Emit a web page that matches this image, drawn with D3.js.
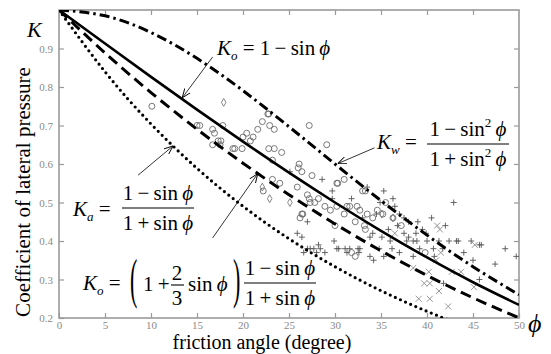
<!DOCTYPE html>
<html>
<head>
<meta charset="utf-8">
<script src="https://cdn.jsdelivr.net/npm/d3@7"></script>
<style>
body { margin: 0; background: #fff; }
svg text { font-family: "Liberation Serif", "Times New Roman", "DejaVu Serif", serif; }
.tick text { fill: #8a8a8a; font-size: 11px; }
.tick line { stroke: #9a9a9a; stroke-width: 1.2; }
</style>
</head>
<body>
<svg></svg>
<script>
var margin = {top: 10, right: 32, bottom: 36, left: 59},
    width = 551 - margin.left - margin.right,
    height = 354 - margin.top - margin.bottom;

var serif = "'Liberation Serif', 'Times New Roman', 'DejaVu Serif', serif";

// axis ticks
var phiTicks = [0, 5, 10, 15, 20, 25, 30, 35, 40, 45, 50];
var kTicks = [0.2, 0.3, 0.4, 0.5, 0.6, 0.7, 0.8, 0.9];

// theory curves, read every 5 degrees
var curvePhi = [0, 5, 10, 15, 20, 25, 30, 35, 40, 45, 50];
var kActive = [1, 0.8397, 0.7041, 0.5888, 0.4903, 0.4059, 0.3333, 0.2710, 0.2174, 0.1716, 0.1325];
var kJaky = [1, 0.9128, 0.8264, 0.7412, 0.6580, 0.5774, 0.5, 0.4264, 0.3572, 0.2929, 0.2340];
var kModified = [1, 0.8885, 0.7856, 0.6904, 0.6021, 0.5203, 0.4444, 0.3746, 0.3106, 0.2525, 0.2002];
var kWall = [1, 0.9849, 0.9415, 0.8744, 0.7906, 0.6969, 0.6, 0.5049, 0.4153, 0.3333, 0.2604];

// measured points [phi, K]
var circlePts = [[10.1,0.75],[15.0,0.70],[15.3,0.70],[16.7,0.69],[16.9,0.68],[17.8,0.70],[17.3,0.66],[17.6,0.66],
  [16.7,0.65],[17.5,0.65],[18.9,0.64],[20.0,0.67],[21.1,0.67],[20.8,0.66],[19.9,0.64],[22.1,0.71],[22.7,0.73],
  [22.8,0.73],[22.9,0.70],[23.4,0.69],[22.8,0.64],[23.4,0.64],[24.2,0.63],[23.2,0.61],[27.2,0.70],[29.1,0.65],
  [26.1,0.60],[26.0,0.59],[26.4,0.58],[27.5,0.57],[24.0,0.55],[23.2,0.56],[25.9,0.54],[27.0,0.52],[27.2,0.51],
  [30.2,0.55],[31.0,0.56],[30.3,0.55],[33.3,0.53],[22.2,0.53],[27.3,0.50],[27.8,0.50],[28.2,0.51],[28.9,0.49],
  [26.4,0.47],[26.5,0.47],[26.2,0.46],[30.2,0.49],[31.3,0.49],[31.6,0.49],[32.4,0.49],[32.7,0.48],[33.5,0.47],
  [34.1,0.46],[33.0,0.53],[30.0,0.44],[31.8,0.37],[32.2,0.36],[33.2,0.44],[33.3,0.43],[32.2,0.45],[35.2,0.47],
  [36.3,0.46],[37.2,0.44],[39.8,0.37],[21.6,0.69],[20.4,0.68],[19.1,0.64],[35.5,0.50],[34.6,0.48],[31.0,0.47],[29.5,0.48]];
var diamondPts = [[17.9,0.76],[22.1,0.54],[22.9,0.51],[35.1,0.47],[36.3,0.46],[25.1,0.50]];
var plusPts = [[28.6,0.56],[29.7,0.51],[33.5,0.54],[35.3,0.53],[25.1,0.58],[29.7,0.53],[27.0,0.45],[25.9,0.42],
  [27.3,0.38],[28.2,0.39],[28.4,0.38],[30.2,0.38],[31.3,0.37],[32.5,0.38],[34.2,0.35],[31.8,0.51],[34.9,0.50],
  [36.3,0.51],[36.2,0.38],[34.1,0.42],[35.1,0.41],[26.4,0.41],[27.0,0.38],[27.7,0.38],[28.0,0.37],[26.6,0.37],
  [28.9,0.37],[29.9,0.40],[30.4,0.38],[31.1,0.38],[31.6,0.38],[32.7,0.38],[32.6,0.37],[33.8,0.36],[34.8,0.38],
  [35.3,0.36],[33.8,0.41],[42.9,0.50],[41.3,0.40],[44.8,0.40],[45.9,0.39],[45.7,0.39],[48.5,0.38],[49.7,0.36],
  [47.4,0.34],[45.0,0.35],[44.0,0.37],[42.4,0.40],[41.7,0.38],[43.2,0.40],[40.7,0.38],[39.2,0.38],[38.5,0.40],
  [45.7,0.30],[41.8,0.29],[43.4,0.40],[37.5,0.42],[38.0,0.41],[38.9,0.40],[39.9,0.42],[38.8,0.42],[37.8,0.40],
  [40.0,0.40],[40.8,0.36],[37.0,0.47],[38.0,0.45],[36.8,0.44],[39.5,0.43],[36.5,0.49],[37.5,0.46],[34.5,0.47],
  [33.0,0.46],[35.8,0.43],[36.0,0.40],[37.0,0.37],[38.5,0.36],[39.0,0.45],[42.0,0.44],[40.5,0.46]];
var crossPts = [[41.1,0.44],[41.4,0.43],[43.7,0.32],[40.2,0.32],[39.7,0.29],[41.3,0.27],[39.1,0.25],[40.3,0.25],
  [42.3,0.23],[45.1,0.28],[41.5,0.37],[42.7,0.32],[40.3,0.29],[38.5,0.33],[36.5,0.42],[41.0,0.35],[45.2,0.39]];

var svg = d3.select("svg")
    .attr("width", width + margin.left + margin.right)
    .attr("height", height + margin.top + margin.bottom),
  g = svg.append("g").attr("transform", "translate(" + margin.left + "," + margin.top + ")");

var x = d3.scaleLinear().domain([0, 50]).range([0, width]);
var y = d3.scaleLinear().domain([0.2, 1.0]).range([height, 0]);

svg.append("defs").append("clipPath").attr("id", "plot")
  .append("rect").attr("width", width).attr("height", height);

svg.select("defs").append("marker")
    .attr("id", "arrow")
    .attr("viewBox", "0 -5 10 10")
    .attr("refX", 10).attr("refY", 0)
    .attr("markerWidth", 9).attr("markerHeight", 9)
    .attr("markerUnits", "userSpaceOnUse")
    .attr("orient", "auto")
  .append("path")
    .attr("d", "M0,-4L10,0L0,4")
    .attr("fill", "none").attr("stroke", "#000").attr("stroke-width", 1);

// axes, ticks point inward
g.append("g")
    .attr("transform", "translate(0," + height + ")")
    .call(d3.axisBottom(x).tickValues(phiTicks).tickSize(-5).tickPadding(3).tickFormat(d3.format("d")));
g.append("g")
    .call(d3.axisLeft(y).tickValues(kTicks).tickSize(-5).tickPadding(6).tickFormat(d3.format(".1f")));
g.append("g")
    .call(d3.axisTop(x).tickValues(phiTicks.slice(1, -1)).tickSize(-5).tickFormat(""));
g.append("g")
    .attr("transform", "translate(" + width + ",0)")
    .call(d3.axisRight(y).tickValues(kTicks.slice(1)).tickSize(-5).tickFormat(""));
g.selectAll(".domain").remove();
g.selectAll(".tick text").attr("font-family", serif);

g.append("rect")
    .attr("width", width).attr("height", height)
    .attr("fill", "none").attr("stroke", "#9a9a9a").attr("stroke-width", 1.6);

// scatter
var pts = g.append("g").attr("clip-path", "url(#plot)");
pts.selectAll(".c").data(circlePts).enter().append("circle")
    .attr("cx", function(d) { return x(d[0]); })
    .attr("cy", function(d) { return y(d[1]); })
    .attr("r", 3)
    .attr("fill", "none").attr("stroke", "#6a6a6a").attr("stroke-width", 0.9);
pts.selectAll(".dm").data(diamondPts).enter().append("path")
    .attr("transform", function(d) { return "translate(" + x(d[0]) + "," + y(d[1]) + ")"; })
    .attr("d", d3.symbol(d3.symbolDiamond, 18))
    .attr("fill", "none").attr("stroke", "#777").attr("stroke-width", 0.9);
pts.selectAll(".p").data(plusPts).enter().append("path")
    .attr("transform", function(d) { return "translate(" + x(d[0]) + "," + y(d[1]) + ")"; })
    .attr("d", "M-3,0H3M0,-3V3")
    .attr("stroke", "#555").attr("stroke-width", 0.9);
pts.selectAll(".x").data(crossPts).enter().append("path")
    .attr("transform", function(d) { return "translate(" + x(d[0]) + "," + y(d[1]) + ")"; })
    .attr("d", "M-3,-3L3,3M-3,3L3,-3")
    .attr("stroke", "#8a8a8a").attr("stroke-width", 0.9);

// curves
var line = d3.line()
    .x(function(d) { return x(d[0]); })
    .y(function(d) { return y(d[1]); })
    .curve(d3.curveNatural);

var curves = [
  {vals: kActive, dash: "0,5.6", w: 3.2, cap: "round"},
  {vals: kModified, dash: "11,6", w: 3, cap: "butt"},
  {vals: kJaky, dash: null, w: 2.6, cap: "butt"},
  {vals: kWall, dash: "10,4,2.5,4", w: 3, cap: "butt"}
];
var lines = g.append("g").attr("clip-path", "url(#plot)");
curves.forEach(function(c) {
  lines.append("path")
      .datum(curvePhi.map(function(p, i) { return [p, c.vals[i]]; }))
      .attr("d", line)
      .attr("fill", "none")
      .attr("stroke", "#000")
      .attr("stroke-width", c.w)
      .attr("stroke-linecap", c.cap)
      .attr("stroke-dasharray", c.dash);
});

// arrows [from, to] in data units
var arrows = [
  [[16.7, 0.878], [13.4, 0.772]],
  [[34.3, 0.642], [30.3, 0.601]],
  [[8.6, 0.571], [12.4, 0.647]],
  [[16.7, 0.408], [21.6, 0.575]]
];
g.selectAll(".arrow").data(arrows).enter().append("line")
    .attr("x1", function(d) { return x(d[0][0]); })
    .attr("y1", function(d) { return y(d[0][1]); })
    .attr("x2", function(d) { return x(d[1][0]); })
    .attr("y2", function(d) { return y(d[1][1]); })
    .attr("stroke", "#000").attr("stroke-width", 0.8)
    .attr("marker-end", "url(#arrow)");

// formula labels (page coordinates)
var fs = 21, sub = 13;
var lab = svg.append("g").attr("font-size", fs).attr("font-family", serif).attr("fill", "#000");

function kName(px, py, s) {
  var t = lab.append("text").attr("x", px).attr("y", py);
  t.append("tspan").attr("font-style", "italic").text("K");
  t.append("tspan").attr("font-style", "italic").attr("font-size", sub).attr("dy", 5).text(s);
  return t;
}
function sinPhi(t, sq) {
  t.append("tspan").text("sin");
  if (sq) t.append("tspan").attr("font-size", sub).attr("dy", -9).text("2");
  t.append("tspan").attr("font-style", "italic").attr("dy", sq ? 9 : 0).text("\u2009\u03d5");
}
function frac(cx, barY, w, sq) {
  lab.append("line").attr("x1", cx - w / 2).attr("x2", cx + w / 2)
      .attr("y1", barY).attr("y2", barY).attr("stroke", "#000").attr("stroke-width", 1.1);
  [["1\u2009\u2212\u2009", barY - 8], ["1\u2009+\u2009", barY + 22]].forEach(function(r) {
    var t = lab.append("text").attr("x", cx).attr("y", r[1]).attr("text-anchor", "middle");
    t.append("tspan").text(r[0]);
    sinPhi(t, sq);
  });
}

// Ko = 1 - sin phi
var t1 = kName(217, 55, "o");
t1.append("tspan").attr("dy", -5).text(" = 1\u2009\u2212\u2009");
sinPhi(t1, false);

// Kw
kName(377, 149, "w").append("tspan").attr("dy", -5).text(" =");
frac(468, 144, 82, true);

// Ka
kName(73, 216, "a").append("tspan").attr("dy", -5).text(" =");
frac(158, 208, 72, false);

// Ko modified
kName(83, 290, "o").append("tspan").attr("dy", -5).text(" =");
lab.append("text").attr("transform", "translate(130,297) scale(1,2.5)").attr("font-size", 22).text("(");
lab.append("text").attr("transform", "translate(233,297) scale(1,2.5)").attr("font-size", 22).text(")");
lab.append("text").attr("x", 143).attr("y", 291).text("1\u2009+");
lab.append("text").attr("x", 177).attr("y", 280).attr("text-anchor", "middle").text("2");
lab.append("text").attr("x", 177).attr("y", 305).attr("text-anchor", "middle").text("3");
lab.append("line").attr("x1", 171).attr("x2", 184).attr("y1", 285).attr("y2", 285)
    .attr("stroke", "#000").attr("stroke-width", 1.1);
var t4 = lab.append("text").attr("x", 188).attr("y", 291);
sinPhi(t4, false);
frac(280, 283, 72, false);

// axis titles
svg.append("text")
    .attr("transform", "translate(30,192) rotate(-90)")
    .attr("text-anchor", "middle").attr("font-size", 21).attr("font-family", serif)
    .text("Coefficient of lateral pressure");
svg.append("text")
    .attr("x", 262).attr("y", 349)
    .attr("text-anchor", "middle").attr("font-size", 20).attr("font-family", serif)
    .text("friction angle (degree)");
svg.append("text")
    .attr("x", 27).attr("y", 37)
    .attr("font-style", "italic").attr("font-size", 22).attr("font-family", serif)
    .text("K");
svg.append("text")
    .attr("x", 528).attr("y", 332)
    .attr("font-style", "italic").attr("font-size", 26).attr("font-family", serif)
    .text("\u03d5");
</script>
</body>
</html>
